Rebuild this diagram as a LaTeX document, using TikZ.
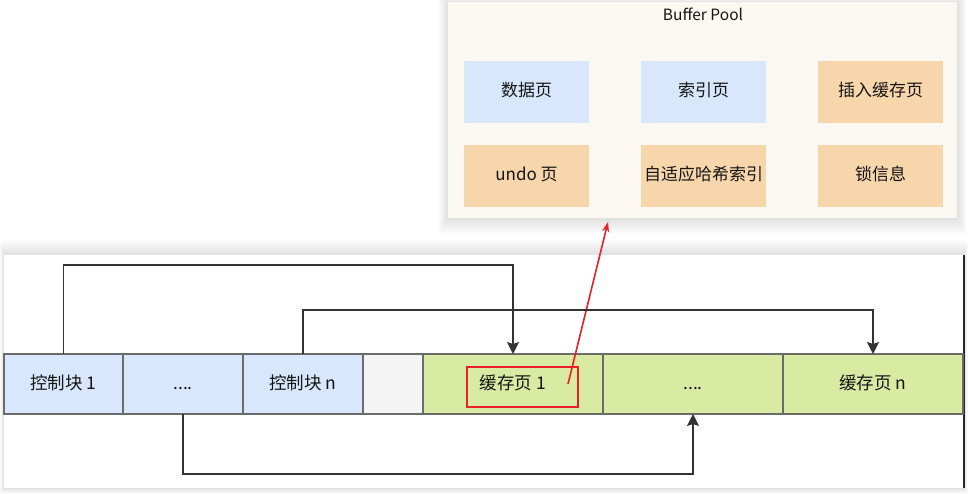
\documentclass[tikz,border=0pt]{standalone}
\usepackage{fontspec}
\setmainfont{Noto Sans CJK SC}
\usetikzlibrary{arrows.meta}
\definecolor{poolbg}{HTML}{FBF8F1}
\definecolor{bluec}{HTML}{D8E7FB}
\definecolor{orangec}{HTML}{F7D6AC}
\definecolor{greenc}{HTML}{D9EAA2}
\definecolor{grayc}{HTML}{F4F4F4}
\definecolor{cellline}{HTML}{6B6B6B}
\definecolor{connc}{HTML}{333333}
\definecolor{txt}{HTML}{151515}
\definecolor{redc}{HTML}{E8202A}
\tikzset{
  cell/.style={draw=cellline, line width=1.5pt, minimum height=60pt, outer sep=0pt, inner sep=0pt, text=txt, text height=14pt, text depth=4pt, font=\fontsize{17.5}{20}\selectfont},
  inbox/.style={minimum width=125pt, minimum height=62pt, outer sep=0pt, inner sep=0pt, text=txt, text height=14pt, text depth=4pt, font=\fontsize{17}{20}\selectfont},
  conn/.style={draw=connc, line width=1.7pt},
  conntip/.style={-{Stealth[length=12pt,width=12pt,inset=2pt]}},
  softshadow/.style={fill=black, fill opacity=0.011, draw=none},
}
\begin{document}
\begin{tikzpicture}[x=1pt,y=-1pt]
\useasboundingbox (0,0) rectangle (968,494);
\fill[white] (0,0) rectangle (968,494);
% shadows
\foreach \i in {1,...,10}{
  \fill[softshadow] (448-\i,2-\i*0.3) rectangle (957+\i,218+\i*1.6);
  \fill[softshadow] (4-\i*0.4,255-\i*1.5) rectangle (964+\i*0.4,488+\i*0.6);
}
% top panel
\node[draw=none, fill=poolbg, minimum width=509pt, minimum height=216pt, outer sep=0pt, inner sep=0pt] (pool) at (702.5,110) {};
\node[text=txt, font=\fontsize{15.5}{18}\selectfont] (title) at (703,14) {Buffer Pool};
\node[inbox, fill=bluec] (p1) at (526.5,92) {数据页};
\node[inbox, fill=bluec] (p2) at (703.5,92) {索引页};
\node[inbox, fill=orangec] (p3) at (880.5,92) {插入缓存页};
\node[inbox, fill=orangec] (p4) at (526.5,176) {undo 页};
\node[inbox, fill=orangec] (p5) at (703.5,176) {自适应哈希索引};
\node[inbox, fill=orangec] (p6) at (880.5,176) {锁信息};
% bottom panel
\node[fill=white, minimum width=960pt, minimum height=233pt, outer sep=0pt, inner sep=0pt] (lower) at (484,371.5) {};
\draw[line width=1.2pt, draw=black!85] (lower.north east) -- (lower.south east);
% cells
\node[cell, fill=bluec, minimum width=119pt] (c1) at (63.5,384) {控制块 1};
\node[cell, fill=bluec, minimum width=120pt] (c2) at (183,384) {....};
\node[cell, fill=bluec, minimum width=120pt] (c3) at (303,384) {控制块 n};
\node[cell, fill=grayc, minimum width=60pt] (gap) at (393,384) {};
\node[cell, fill=greenc, minimum width=180pt] (g1) at (513,384) {缓存页 1};
\node[cell, fill=greenc, minimum width=180pt] (g2) at (693,384) {....};
\node[cell, fill=greenc, minimum width=180pt] (g3) at (873,384) {缓存页 n};
% red highlight
\node[draw=redc, line width=1.9pt, minimum width=111pt, minimum height=40pt, inner sep=0pt, outer sep=0pt] (hl) at (522.5,387) {};
\coordinate (rs) at (568,384);
\coordinate (re) at (608,222);
\draw[draw=redc, line width=1.6pt, -{Stealth[length=10pt,width=7pt]}] (rs) -- (re);
% connectors
\draw[conn, conntip] (c1.north) -- (c1.north |- 0,265) -- (g1.north |- 0,265) -- (g1.north);
\draw[conn, conntip] (c3.north) -- (c3.north |- 0,310) -- (g3.north |- 0,310) -- (g3.north);
\draw[conn, conntip] (c2.south) -- (c2.south |- 0,474) -- (g2.south |- 0,474) -- (g2.south);
\end{tikzpicture}
\end{document}
